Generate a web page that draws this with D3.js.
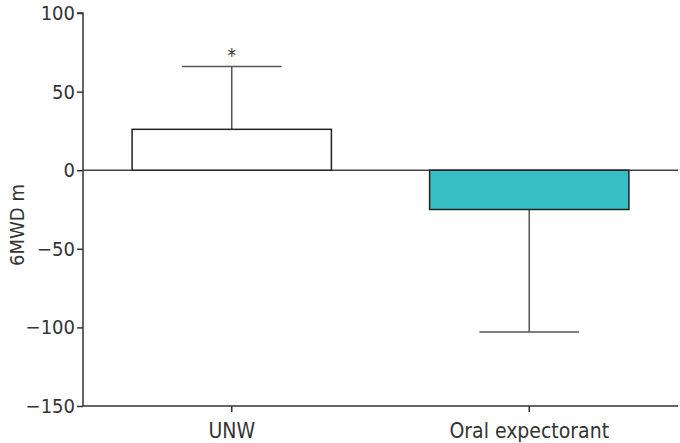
<!DOCTYPE html>
<html><head><meta charset="utf-8">
<script src="https://cdn.jsdelivr.net/npm/d3@7"></script>
<style>body{margin:0;background:#fff}</style>
</head><body>
<svg id="c" width="680" height="443"></svg>
<script>
const categories = ["UNW", "Oral expectorant"];
const means = [26, -25];
const errorEnds = [66, -103];
const barFills = ["#ffffff", "#36bec5"];
const significance = ["*", ""];
const yTicks = [100, 50, 0, -50, -100, -150];
const yTitle = "6MWD m";

const font = "'Liberation Sans Narrow','DejaVu Sans Condensed',sans-serif";
const svg = d3.select("#c");
const x = d3.scaleBand().domain(categories).range([83, 678]).paddingInner(0.33).paddingOuter(0.165);
const y = d3.scaleLinear().domain([-150, 100]).range([406, 13]);

// y axis
const ya = svg.append("g").attr("transform", "translate(83,0)")
  .call(d3.axisLeft(y).tickValues(yTicks).tickSize(6).tickPadding(2).tickFormat(d => d < 0 ? "\u2212" + Math.abs(d) : d));
ya.select(".domain").attr("stroke", "#333").attr("stroke-width", 1.5).attr("d", `M-6,${y(100)}H0V${y(-150)}`);
ya.selectAll(".tick line").attr("stroke", "#333").attr("stroke-width", 1.5);
ya.selectAll(".tick text").attr("font-family", font).attr("font-size", 20).attr("fill", "#333");

// x axis
const xa = svg.append("g").attr("transform", `translate(0,${y(-150)})`)
  .call(d3.axisBottom(x).tickSize(6).tickPadding(11));
xa.select(".domain").attr("stroke", "#333").attr("stroke-width", 1.5).attr("d", `M83,0H678`);
xa.selectAll(".tick line").attr("stroke", "#333").attr("stroke-width", 1.5);
xa.selectAll(".tick text").attr("font-family", font).attr("font-size", 21).attr("fill", "#333");

// zero line
svg.append("line").attr("x1", 83).attr("x2", 678).attr("y1", y(0)).attr("y2", y(0))
  .attr("stroke", "#444").attr("stroke-width", 1.5);

// error bars
const capW = x.bandwidth() / 2;
categories.forEach((c, i) => {
  const cx = x(c) + x.bandwidth() / 2;
  svg.append("line").attr("x1", cx).attr("x2", cx).attr("y1", y(means[i])).attr("y2", y(errorEnds[i]))
    .attr("stroke", "#555").attr("stroke-width", 1.5);
  svg.append("line").attr("x1", cx - capW / 2).attr("x2", cx + capW / 2).attr("y1", y(errorEnds[i])).attr("y2", y(errorEnds[i]))
    .attr("stroke", "#555").attr("stroke-width", 1.5);
  if (significance[i]) {
    svg.append("text").attr("x", cx).attr("y", y(errorEnds[i]) - 4).attr("text-anchor", "middle")
      .attr("font-family", font).attr("font-size", 19).attr("fill", "#333").text(significance[i]);
  }
});

// bars
svg.selectAll("rect.bar").data(categories).join("rect").attr("class", "bar")
  .attr("x", d => x(d)).attr("width", x.bandwidth())
  .attr("y", (d, i) => y(Math.max(0, means[i])))
  .attr("height", (d, i) => Math.abs(y(means[i]) - y(0)))
  .attr("fill", (d, i) => barFills[i]).attr("stroke", "#222").attr("stroke-width", 1.5);

// y title
svg.append("text").attr("transform", "translate(24,225) rotate(-90)").attr("text-anchor", "middle")
  .attr("font-family", font).attr("font-size", 20).attr("fill", "#333").text(yTitle);
</script>
</body></html>
